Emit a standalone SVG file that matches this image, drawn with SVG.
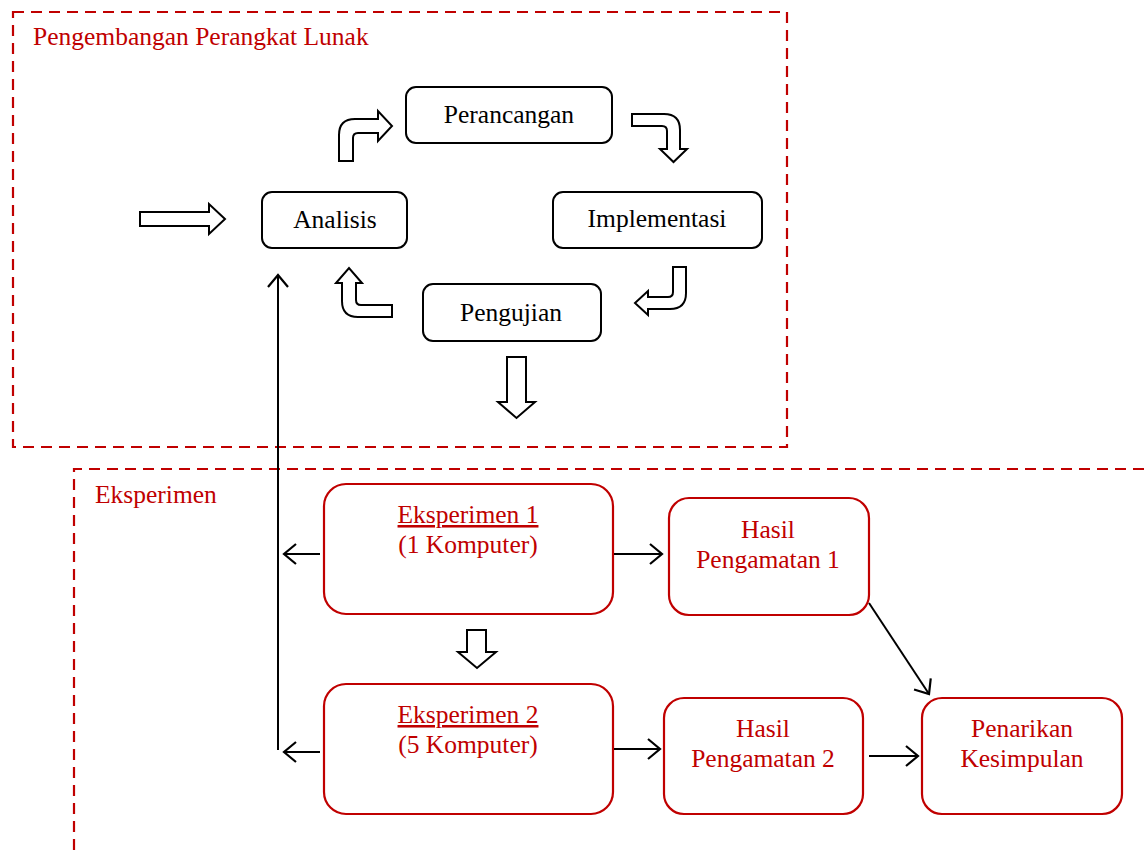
<svg xmlns="http://www.w3.org/2000/svg" width="1145" height="850" viewBox="0 0 1145 850">
<style>
.frame{fill:none;stroke:#C00000;stroke-width:2.2;stroke-dasharray:11 7}
.bbox{fill:#fff;stroke:#000;stroke-width:2}
.rbox{fill:#fff;stroke:#C00000;stroke-width:2.2}
.blk{fill:#fff;stroke:#000;stroke-width:2;stroke-linejoin:miter}
text{font-family:'Liberation Serif','Times New Roman',serif;font-size:25.5px}
.t{text-anchor:middle;fill:#000}
.r{fill:#C00000}
.lbl{fill:#C00000}
.con{fill:none;stroke:#000;stroke-width:2}
</style>
<defs>
<marker id="arr" markerUnits="userSpaceOnUse" markerWidth="30" markerHeight="30" refX="14" refY="10" orient="auto" viewBox="0 0 30 20">
<path d="M2,0 L14,10 L2,20" fill="none" stroke="#000" stroke-width="2.2"/>
</marker>
</defs>
<rect class="frame" x="13" y="12" width="774" height="435"/>
<path class="frame" d="M74,850 L74,469 L1145,469"/>
<text class="lbl" x="33" y="45">Pengembangan Perangkat Lunak</text>
<text class="lbl" x="95" y="503">Eksperimen</text>
<g id="block-arrows">
<path class="blk" d="M140,212 L209,212 L209,204 L225,219 L209,234 L209,226 L140,226 Z"/>
<path class="blk" d="M339,161 L339,135 Q339,119 355,119 L378,119 L378,111 L392,126 L378,141 L378,133 L358,133 Q353,133 353,138 L353,161 Z"/>
<path class="blk" d="M632,114 L664,114 Q680,114 680,130 L680,149 L687,149 L673.5,162 L660,149 L667,149 L667,131 Q667,126 662,126 L632,126 Z"/>
<path class="blk" d="M686,267 L686,293 Q686,309 670,309 L648,309 L648,315 L635,303 L648,291 L648,297 L668,297 Q673,297 673,292 L673,267 Z"/>
<path class="blk" d="M392,317 L358,317 Q342,317 342,301 L342,283 L336,283 L349,268 L362,283 L356,283 L356,300 Q356,305 361,305 L392,305 Z"/>
<path class="blk" d="M507,357 L526,357 L526,402 L535,402 L516.5,418 L498,402 L507,402 Z"/>
<path class="blk" d="M467,630 L486,630 L486,652 L496,652 L477,668 L458,652 L467,652 Z"/>
</g>
<g id="perancangan"><rect class="bbox" x="406" y="87" width="206" height="56" rx="10"/><text class="t" x="509" y="123">Perancangan</text></g>
<g id="analisis"><rect class="bbox" x="262" y="192" width="145" height="56" rx="10"/><text class="t" x="335" y="228">Analisis</text></g>
<g id="implementasi"><rect class="bbox" x="553" y="192" width="209" height="56" rx="10"/><text class="t" x="657" y="227">Implementasi</text></g>
<g id="pengujian"><rect class="bbox" x="423" y="284" width="178" height="57" rx="10"/><text class="t" x="511" y="321">Pengujian</text></g>
<g id="eksperimen1"><rect class="rbox" x="324" y="484" width="289" height="130" rx="22"/><text class="t r" x="468" y="523"><tspan text-decoration="underline">Eksperimen 1</tspan></text><text class="t r" x="468" y="553">(1 Komputer)</text></g>
<g id="eksperimen2"><rect class="rbox" x="324" y="684" width="289" height="130" rx="22"/><text class="t r" x="468" y="723"><tspan text-decoration="underline">Eksperimen 2</tspan></text><text class="t r" x="468" y="753">(5 Komputer)</text></g>
<g id="hasil1"><rect class="rbox" x="669" y="498" width="200" height="117" rx="20"/><text class="t r" x="768" y="538">Hasil</text><text class="t r" x="768" y="568">Pengamatan 1</text></g>
<g id="hasil2"><rect class="rbox" x="664" y="698" width="199" height="116" rx="20"/><text class="t r" x="763" y="737">Hasil</text><text class="t r" x="763" y="767">Pengamatan 2</text></g>
<g id="penarikan"><rect class="rbox" x="922" y="698" width="200" height="116" rx="20"/><text class="t r" x="1022" y="737">Penarikan</text><text class="t r" x="1022" y="767">Kesimpulan</text></g>
<g id="connectors">
<path class="con" d="M278,750 L278,275" marker-end="url(#arr)"/>
<path class="con" d="M320,554 L284,554" marker-end="url(#arr)"/>
<path class="con" d="M320,752 L284,752" marker-end="url(#arr)"/>
<path class="con" d="M614,554 L662,554" marker-end="url(#arr)"/>
<path class="con" d="M614,749 L660,749" marker-end="url(#arr)"/>
<path class="con" d="M869,603 L929,694" marker-end="url(#arr)"/>
<path class="con" d="M869,756 L918,756" marker-end="url(#arr)"/>
</g>
</svg>
